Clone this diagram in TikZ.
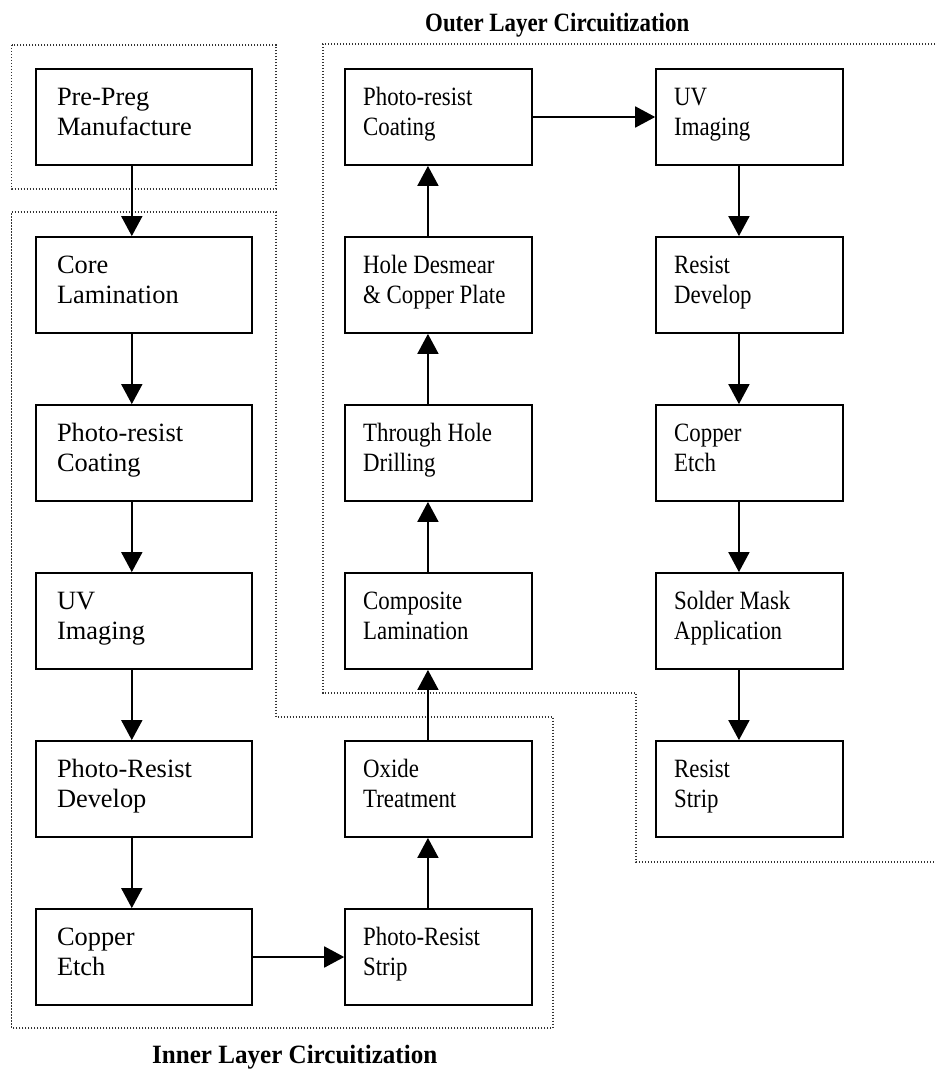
\documentclass[tikz,border=0pt]{standalone}
\usepackage{graphicx}
\usepackage{fontspec}
\setmainfont{Liberation Serif}
\usetikzlibrary{arrows.meta,calc}
% two-line step label set in the top part of a 96pt high box
\newcommand\steptext[1]{\parbox[b][96pt][t]{174pt}{\raggedright
  \rule{0pt}{36pt}#1}}
\begin{document}
\begin{tikzpicture}[x=1pt,y=-1pt,
  stepbox/.style={draw, line width=1.8pt, rectangle, minimum width=216pt,
    minimum height=96pt, inner xsep=21pt, inner ysep=0pt,
    font=\fontsize{26.4}{30.4}\selectfont},
  narrow/.style={xscale=0.866, transform shape},
  flow/.style={line width=1.8pt, -{Triangle[width=21pt,length=20pt]}},
  group/.style={line width=1.3pt, black!80, dash pattern=on 1.3pt off 1.7pt},
  title/.style={anchor=base west, inner sep=0pt,
    font=\bfseries\fontsize{26.4}{30}\selectfont}]
\useasboundingbox (0,0) rectangle (935,1070);

% process groups
\draw[group] (11.7,45) rectangle (276,189);
\draw[group] (11.7,212) -- (276,212) -- (276,717) -- (553,717)
  -- (553,1028) -- (11.7,1028) -- cycle;
\draw[group] (935,44) -- (323,44) -- (323,693) -- (636,693)
  -- (636,862) -- (935,862);

\node[title] (outerT) at (425,31.7)
  {\resizebox{264pt}{\height}{Outer Layer Circuitization}};
\node[title] (innerT) at (152,1063)
  {\resizebox{285pt}{\height}{Inner Layer Circuitization}};

% left column
\node[stepbox] (pp)  at (144,117) {\steptext{Pre-Preg\\Manufacture}};
\node[stepbox] (cl)  at (144,285) {\steptext{Core\\Lamination}};
\node[stepbox] (prc) at (144,453) {\steptext{Photo-resist\\Coating}};
\node[stepbox] (uvi) at (144,621) {\steptext{UV\\Imaging}};
\node[stepbox] (prd) at (144,789) {\steptext{Photo-Resist\\Develop}};
\node[stepbox] (ce)  at (144,957) {\steptext{Copper\\Etch}};

% middle column
\node[stepbox,narrow] (oprc) at (438.5,117) {\steptext{Photo-resist\\Coating}};
\node[stepbox,narrow] (hd)   at (438.5,285) {\steptext{Hole Desmear\\\& Copper Plate}};
\node[stepbox,narrow] (thd)  at (438.5,453) {\steptext{Through Hole\\Drilling}};
\node[stepbox,narrow] (cml)  at (438.5,621) {\steptext{Composite\\Lamination}};
\node[stepbox,narrow] (ox)   at (438.5,789) {\steptext{Oxide\\Treatment}};
\node[stepbox,narrow] (prs)  at (438.5,957) {\steptext{Photo-Resist\\Strip}};

% right column
\node[stepbox,narrow] (ouv) at (749.5,117) {\steptext{UV\\Imaging}};
\node[stepbox,narrow] (ord) at (749.5,285) {\steptext{Resist\\Develop}};
\node[stepbox,narrow] (oce) at (749.5,453) {\steptext{Copper\\Etch}};
\node[stepbox,narrow] (sm)  at (749.5,621) {\steptext{Solder Mask\\Application}};
\node[stepbox,narrow] (rs)  at (749.5,789) {\steptext{Resist\\Strip}};

% downward flow
\foreach \a/\b in {pp/cl, cl/prc, prc/uvi, uvi/prd, prd/ce,
                   ouv/ord, ord/oce, oce/sm, sm/rs}
  \draw[flow] ($(\a.south west)!.444!(\a.south east)$)
           -- ($(\b.north west)!.444!(\b.north east)$);

% upward flow
\foreach \a/\b in {prs/ox, ox/cml, cml/thd, thd/hd, hd/oprc}
  \draw[flow] ($(\a.north west)!.444!(\a.north east)$)
           -- ($(\b.south west)!.444!(\b.south east)$);

% sideways flow
\draw[flow] (ce.east) -- (prs.west);
\draw[flow] (oprc.east) -- (ouv.west);
\end{tikzpicture}
\end{document}
